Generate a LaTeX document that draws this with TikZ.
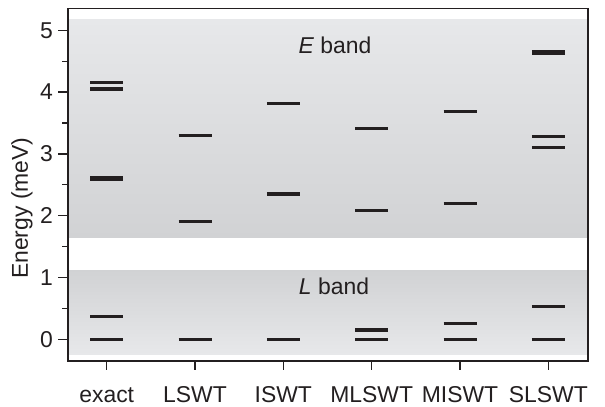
\documentclass[tikz,border=0pt]{standalone}
\usepackage{fontspec}
\setmainfont{Liberation Sans}
\usetikzlibrary{positioning}

\pgfdeclarelayer{background}
\pgfsetlayers{background,main}

\definecolor{bandlight}{RGB}{231,232,234}
\definecolor{banddark}{RGB}{209,210,212}
\definecolor{ink}{RGB}{35,31,32}

\begin{document}
\begin{tikzpicture} [
	   x=1bp, y=61.8bp,
	   axis/.style      = { draw=ink, line width=1.3bp },
	   level/.style     = { draw=ink, line width=3.2bp },
	   deglevel/.style  = { draw=ink, line width=5.2bp },
	   txt/.style       = { text=ink, inner sep=0pt, font=\fontsize{23}{26}\selectfont },
	 ]
	  \useasboundingbox (0,-1.095) rectangle (605,5.490);

	  % frame corners
	  \coordinate (ll) at (68,-0.351);
	  \coordinate (ur) at (588,5.350);

	  % bands
	  \begin{pgfonlayer}{background}
		\path[top color=bandlight, bottom color=banddark] (68,1.64) rectangle (588,5.18);
		\path[top color=banddark, bottom color=bandlight] (68,-0.24) rectangle (588,1.12);
	  \end{pgfonlayer}

	  \node[txt] (eband) at (335,4.76) {\textit{E} band};
	  \node[txt] (lband) at (334,0.85) {\textit{L} band};

	  % frame
	  \draw[axis] (ll) rectangle (ur);

	  % y ticks
	  \foreach \v in {0,...,5} {
		\draw[axis] (58,\v) -- (68,\v);
		\node[txt, anchor=east] (y\v) at (53,\v) {\v};
	  }
	  \foreach \v in {0.5,1.5,...,4.5}
		\draw[axis] (62,\v) -- (68,\v);

	  \node[txt, rotate=90] (ylabel) at (22,2.12) {Energy (meV)};

	  % columns and their levels
	  \foreach \x/\col/\levs in {
		106.7/exact/{4.15/level,4.05/level,2.6/deglevel,0.37/level,0/level},
		195.0/LSWT/{3.3/level,1.9/level,0/level},
		283.3/ISWT/{3.81/level,2.35/level,0/level},
		371.7/MLSWT/{3.41/level,2.09/level,0.15/level,0/level},
		460.0/MISWT/{3.68/level,2.20/level,0.25/level,0/level},
		548.3/SLSWT/{4.64/deglevel,3.28/level,3.10/level,0.53/level,0/level}} {
		\draw[axis] (\x,-0.351) -- (\x,-0.497);
		\node[txt] (lbl-\col) at (\x,-0.90) {\col};
		\foreach \e/\s in \levs
			\draw[\s] (\x-16.5,\e) -- (\x+16.5,\e);
	  }
\end{tikzpicture}
\end{document}
